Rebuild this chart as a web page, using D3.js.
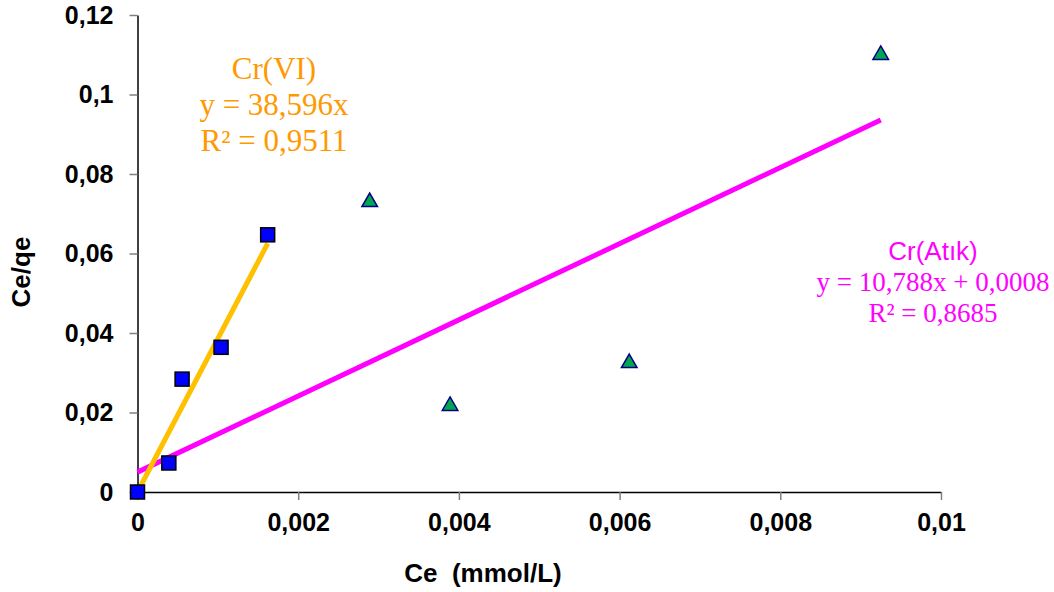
<!DOCTYPE html>
<html>
<head>
<meta charset="utf-8">
<script src="https://cdn.jsdelivr.net/npm/d3@7"></script>
<style>
  body { margin: 0; background: #fff; }
  svg { display: block; }
</style>
</head>
<body>
<div id="chart"></div>
<script>
// Cr(VI) points (squares)
const crViX = [0, 0.00039, 0.000555, 0.00104, 0.00162];
const crViY = [0, 0.0073, 0.0284, 0.0364, 0.0647];
// Cr(Atık) points (triangles)
const crAtikX = [0.00289, 0.00389, 0.00612, 0.00925];
const crAtikY = [0.0732, 0.0219, 0.0327, 0.1102];
// trend lines
const crViSlope = 38.596;
const crViRange = [0, 0.00162];
const crAtikLineX = [0, 0.00925];
const crAtikLineY = [0.005, 0.0936];

const xTicks = [0, 0.002, 0.004, 0.006, 0.008, 0.01];
const yTicks = [0, 0.02, 0.04, 0.06, 0.08, 0.1, 0.12];
const xTickLabels = ["0", "0,002", "0,004", "0,006", "0,008", "0,01"];
const yTickLabels = ["0", "0,02", "0,04", "0,06", "0,08", "0,1", "0,12"];

const svgWidth = 1054;
const svgHeight = 592;

const svg = d3
  .select("#chart")
  .append("svg")
  .attr("width", svgWidth)
  .attr("height", svgHeight);

const xScale = d3.scaleLinear().domain([0, 0.01]).range([137.5, 941]);
const yScale = d3.scaleLinear().domain([0, 0.12]).range([492, 15]);

// axes
const xAxis = d3
  .axisBottom(xScale)
  .tickValues(xTicks)
  .tickFormat((d, i) => xTickLabels[i])
  .tickSizeInner(8)
  .tickSizeOuter(0)
  .tickPadding(13);

const yAxis = d3
  .axisLeft(yScale)
  .tickValues(yTicks)
  .tickFormat((d, i) => yTickLabels[i])
  .tickSizeInner(8)
  .tickSizeOuter(0)
  .tickPadding(16);

const gx = svg
  .append("g")
  .attr("transform", "translate(0," + yScale(0) + ")")
  .call(xAxis);

const gy = svg
  .append("g")
  .attr("transform", "translate(" + xScale(0) + ",0)")
  .call(yAxis);

[gx, gy].forEach((g) => {
  g.select(".domain").attr("stroke", "#000").attr("stroke-width", 1.5);
  g.selectAll(".tick line").attr("stroke", "#808080").attr("stroke-width", 1.5);
  g.selectAll(".tick text")
    .attr("fill", "#000")
    .attr("font-family", "Liberation Sans, Arial, sans-serif")
    .attr("font-weight", "bold")
    .attr("font-size", 25);
});

// trend lines
const line = d3
  .line()
  .x((d) => xScale(d[0]))
  .y((d) => yScale(d[1]));

svg
  .append("path")
  .datum(crAtikLineX.map((x, i) => [x, crAtikLineY[i]]))
  .attr("d", line)
  .attr("fill", "none")
  .attr("stroke", "#FF00FF")
  .attr("stroke-width", 5);

svg
  .append("path")
  .datum(crViRange.map((x) => [x, crViSlope * x]))
  .attr("d", line)
  .attr("fill", "none")
  .attr("stroke", "#FFC000")
  .attr("stroke-width", 5);

// markers
const crViData = crViX.map((x, i) => ({ x, y: crViY[i] }));
const crAtikData = crAtikX.map((x, i) => ({ x, y: crAtikY[i] }));

const triangle = d3.symbol().type(d3.symbolTriangle).size(105);

svg
  .selectAll("path.tri")
  .data(crAtikData)
  .enter()
  .append("path")
  .attr("class", "tri")
  .attr("d", triangle)
  .attr("transform", (d) => "translate(" + xScale(d.x) + "," + (yScale(d.y) + 1) + ")")
  .attr("fill", "#00A651")
  .attr("stroke", "#000080")
  .attr("stroke-width", 1.5);

svg
  .selectAll("rect.sq")
  .data(crViData)
  .enter()
  .append("rect")
  .attr("class", "sq")
  .attr("x", (d) => xScale(d.x) - 7)
  .attr("y", (d) => yScale(d.y) - 7)
  .attr("width", 14)
  .attr("height", 14)
  .attr("fill", "#0000FF")
  .attr("stroke", "#000")
  .attr("stroke-width", 1.5);

// equation labels
const crViLabel = ["Cr(VI)", "y = 38,596x", "R² = 0,9511"];
const crAtikLabel = ["Cr(Atık)", "y = 10,788x + 0,0008", "R² = 0,8685"];

svg
  .selectAll("text.vi")
  .data(crViLabel)
  .enter()
  .append("text")
  .attr("class", "vi")
  .text((d) => d)
  .attr("x", 274)
  .attr("y", (d, i) => 79 + i * 36)
  .attr("text-anchor", "middle")
  .attr("fill", "#FF9900")
  .attr("font-family", "Liberation Serif, Times New Roman, serif")
  .attr("font-size", 31);

svg
  .selectAll("text.atik")
  .data(crAtikLabel)
  .enter()
  .append("text")
  .attr("class", "atik")
  .text((d) => d)
  .attr("x", 933)
  .attr("y", (d, i) => 260 + i * 31)
  .attr("text-anchor", "middle")
  .attr("fill", "#FF00FF")
  .attr("font-family", (d, i) =>
    i === 0 ? "Liberation Sans, Arial, sans-serif" : "Liberation Serif, Times New Roman, serif"
  )
  .attr("font-size", (d, i) => (i === 0 ? 26 : 27));

// axis titles
svg
  .append("text")
  .text("Ce  (mmol/L)")
  .attr("x", 483)
  .attr("y", 582)
  .attr("text-anchor", "middle")
  .attr("font-family", "Liberation Sans, Arial, sans-serif")
  .attr("font-weight", "bold")
  .attr("font-size", 26)
  .style("white-space", "pre");

svg
  .append("text")
  .text("Ce/qe")
  .attr("transform", "translate(30,272) rotate(-90)")
  .attr("text-anchor", "middle")
  .attr("font-family", "Liberation Sans, Arial, sans-serif")
  .attr("font-weight", "bold")
  .attr("font-size", 26);
</script>
</body>
</html>
